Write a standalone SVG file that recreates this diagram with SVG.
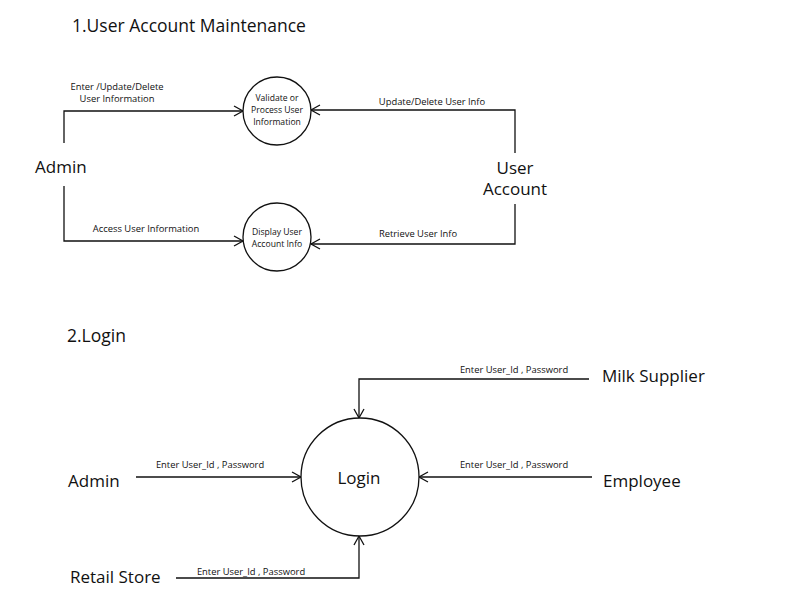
<svg xmlns="http://www.w3.org/2000/svg" width="792" height="611" viewBox="0 0 792 611">
<style>
text{font-family:"Open Sans","Noto Sans",sans-serif;fill:#111}
.t{font-size:17.5px}
.e{font-size:17px}
.c{font-size:9.4px;text-anchor:middle}
.n{font-size:8.6px;text-anchor:middle}
.m{text-anchor:middle}
.ln{fill:none;stroke:#111;stroke-width:1.3;marker-end:url(#ah)}
.nd{fill:#fff;stroke:#111;stroke-width:1.3}
</style>
<defs>
<marker id="ah" markerWidth="12" markerHeight="12" refX="10" refY="6" orient="auto" markerUnits="userSpaceOnUse">
<path d="M1,1 L10,6 L1,11" fill="none" stroke="#111" stroke-width="1.3"/>
</marker>
</defs>
<rect width="792" height="611" fill="#fff"/>
<text class="t" x="72" y="32">1.User Account Maintenance</text>
<text class="t" x="67" y="342">2.Login</text>
<g id="connectors">
<path class="ln" d="M64,143 V111 H243"/>
<path class="ln" d="M64,186 V241 H243"/>
<path class="ln" d="M515,153 V110 H311"/>
<path class="ln" d="M515,204 V244 H311"/>
<path class="ln" d="M136,477 H301"/>
<path class="ln" d="M176,578 H359 V536"/>
<path class="ln" d="M589,379 H359 V418"/>
<path class="ln" d="M592,477 H419"/>
<text class="c" x="117" y="90">Enter /Update/Delete</text>
<text class="c" x="117" y="102">User Information</text>
<text class="c" x="146" y="232">Access User Information</text>
<text class="c" x="432" y="105">Update/Delete User Info</text>
<text class="c" x="418" y="237">Retrieve User Info</text>
<text class="c" x="210" y="468">Enter User_Id , Password</text>
<text class="c" x="251" y="575">Enter User_Id , Password</text>
<text class="c" x="514" y="373">Enter User_Id , Password</text>
<text class="c" x="514" y="468">Enter User_Id , Password</text>
</g>
<g id="admin1"><text class="e" x="35" y="173">Admin</text></g>
<g id="useraccount"><text class="e m" x="515" y="174">User</text><text class="e m" x="515" y="195">Account</text></g>
<g id="validate"><circle class="nd" cx="277" cy="111" r="34"/>
<text class="n" x="277" y="101">Validate or</text><text class="n" x="277" y="113">Process User</text><text class="n" x="277" y="125">Information</text></g>
<g id="display"><circle class="nd" cx="277" cy="237" r="34"/>
<text class="n" x="277" y="235">Display User</text><text class="n" x="277" y="247">Account Info</text></g>
<g id="login"><circle class="nd" cx="360" cy="477" r="59"/><text class="e m" x="359" y="484">Login</text></g>
<g id="admin2"><text class="e" x="68" y="487">Admin</text></g>
<g id="retail"><text class="e" x="70" y="583">Retail Store</text></g>
<g id="milk"><text class="e" x="602" y="382">Milk Supplier</text></g>
<g id="employee"><text class="e" x="603" y="487">Employee</text></g>
</svg>
